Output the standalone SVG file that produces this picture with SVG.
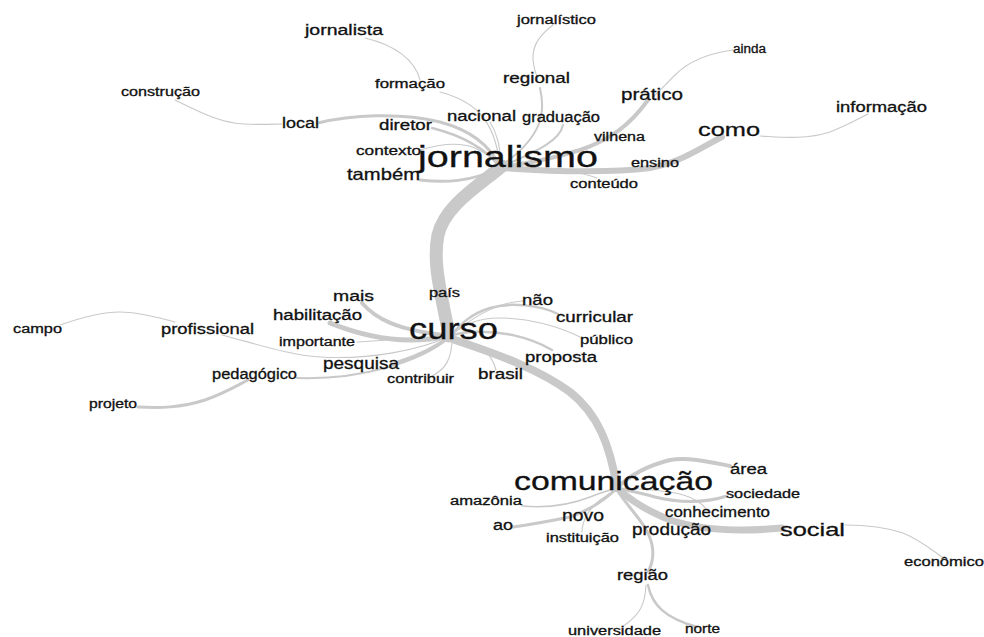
<svg xmlns="http://www.w3.org/2000/svg" width="984" height="637" viewBox="0 0 984 637">
<style>
text{font-family:"Liberation Sans",Arial,sans-serif;fill:#111;stroke:#111;stroke-width:0.3px}
.s{font-size:12px}.m{font-size:14px}.l{font-size:16.5px}.b{font-size:19px}
.h1{font-size:29px}.h2{font-size:30px}.h3{font-size:26px}
#edges path{fill:none;stroke:#c9c9c9;stroke-linecap:round}
.t{stroke-width:1.1}.t2{stroke-width:2}.t3{stroke-width:3}.t4{stroke-width:4}
</style>
<rect width="984" height="637" fill="#fff"/>
<g id="edges">
<path d="M502,166 C480,185 445,205 438,235 C432,265 442,295 449,336" style="stroke-width:13"/>
<path d="M455,340 C500,355 540,370 570,392 C598,414 610,445 617,488" style="stroke-width:8"/>
<path class="t" d="M440,92 C470,100 495,115 500,167"/>
<path class="t" d="M365,38 C395,45 415,60 420,80"/>
<path class="t2" d="M540,88 C545,110 545,135 502,165"/>
<path class="t" d="M553,25 C540,35 532,45 533,60 C534,68 536,74 537,76"/>
<path class="t" d="M490,122 C498,135 501,150 501,166"/>
<path class="t2" d="M563,125 C560,140 540,150 503,166"/>
<path class="t4" d="M648,100 C630,125 610,140 580,150 C555,158 530,163 502,167"/>
<path class="t" d="M733,50 C710,53 690,60 675,75 C665,85 658,93 653,97"/>
<path d="M722,137 C700,148 680,163 650,168 C610,173 560,172 502,168" style="stroke-width:6"/>
<path class="t" d="M760,136 C780,137 805,140 830,132 C848,125 860,118 868,114"/>
<path class="t" d="M597,178 C575,170 540,167 502,167"/>
<path class="t3" d="M318,123 C350,115 400,112 440,122 C470,130 490,145 500,167"/>
<path class="t" d="M175,100 C200,112 220,123 245,124 C260,125 275,124 282,124"/>
<path style="stroke-width:2.5" d="M432,128 C460,135 485,148 500,167"/>
<path class="t" d="M420,150 C440,144 460,142 475,148 C488,154 495,160 500,167"/>
<path class="t3" d="M420,180 C445,183 470,182 500,168"/>
<path class="t4" d="M362,303 C375,318 395,330 450,336"/>
<path style="stroke-width:5" d="M330,323 C355,333 380,340 410,340 C430,340 440,338 450,336"/>
<path class="t" d="M357,342 C390,340 420,338 450,336"/>
<path class="t" d="M222,335 C260,345 290,355 320,357 C370,360 420,350 450,336"/>
<path class="t" d="M60,325 C80,318 100,312 120,312 C140,312 160,318 175,322"/>
<path class="t3" d="M398,362 C420,355 435,348 450,336"/>
<path class="t2" d="M297,378 C330,379 360,375 385,368 C415,360 435,350 450,337"/>
<path class="t3" d="M138,407 C160,408 180,408 205,400 C225,393 238,385 248,380"/>
<path class="t" d="M430,377 C445,370 452,360 452,338"/>
<path class="t" d="M496,370 C492,355 485,345 450,337"/>
<path class="t" d="M523,301 C500,302 475,315 450,336"/>
<path style="stroke-width:2.5" d="M558,314 C540,305 510,302 490,308 C470,314 460,325 450,336"/>
<path class="t" d="M580,337 C560,327 530,318 500,318 C475,318 462,326 450,336"/>
<path style="stroke-width:2.5" d="M552,350 C530,337 500,330 470,332 C460,333 455,334 450,336"/>
<path class="t4" d="M730,466 C710,462 690,457 670,460 C650,465 630,475 617,488"/>
<path class="t3" d="M727,496 C705,503 680,503 655,497 C640,493 625,490 617,488"/>
<path class="t" d="M707,510 C698,498 685,490 617,488"/>
<path d="M782,528 C740,532 700,530 670,520 C645,510 630,500 617,488" style="stroke-width:7"/>
<path class="t" d="M845,525 C865,525 885,527 903,533 C920,540 932,550 942,557"/>
<path class="t3" d="M617,490 C630,510 648,525 652,545 C655,560 650,568 648,572"/>
<path class="t" d="M646,585 C645,605 640,615 622,627"/>
<path style="stroke-width:2.5" d="M648,585 C652,605 665,618 697,627"/>
<path style="stroke-width:1.5" d="M522,506 C545,508 570,505 590,497 C600,493 610,490 617,488"/>
<path class="t3" d="M513,527 C535,524 555,520 570,517 C590,510 605,500 617,488"/>
<path class="t" d="M582,532 C582,520 590,508 600,500 C608,495 613,491 617,488"/>
</g>
<g id="n-jornalismo"><text class="h1" x="418" y="167" textLength="180" lengthAdjust="spacingAndGlyphs">jornalismo</text></g>
<g id="n-curso"><text class="h2" x="409" y="339" textLength="89" lengthAdjust="spacingAndGlyphs">curso</text></g>
<g id="n-comunicacao"><text class="h3" x="514" y="490" textLength="199" lengthAdjust="spacingAndGlyphs">comunicação</text></g>
<g id="n-jornalista"><text class="m" x="305" y="35" textLength="78" lengthAdjust="spacingAndGlyphs">jornalista</text></g>
<g id="n-jornalistico"><text class="s" x="517" y="24" textLength="79" lengthAdjust="spacingAndGlyphs">jornalístico</text></g>
<g id="n-ainda"><text class="s" x="733" y="53" textLength="33" lengthAdjust="spacingAndGlyphs">ainda</text></g>
<g id="n-formacao"><text class="s" x="375" y="88" textLength="70" lengthAdjust="spacingAndGlyphs">formação</text></g>
<g id="n-regional"><text class="m" x="503" y="83" textLength="67" lengthAdjust="spacingAndGlyphs">regional</text></g>
<g id="n-pratico"><text class="l" x="621" y="100" textLength="62" lengthAdjust="spacingAndGlyphs">prático</text></g>
<g id="n-construcao"><text class="s" x="121" y="96" textLength="79" lengthAdjust="spacingAndGlyphs">construção</text></g>
<g id="n-informacao"><text class="m" x="836" y="112" textLength="91" lengthAdjust="spacingAndGlyphs">informação</text></g>
<g id="n-nacional"><text class="m" x="447" y="121" textLength="69" lengthAdjust="spacingAndGlyphs">nacional</text></g>
<g id="n-graduacao"><text class="m" x="522" y="122" textLength="78" lengthAdjust="spacingAndGlyphs">graduação</text></g>
<g id="n-local"><text class="m" x="282" y="128" textLength="37" lengthAdjust="spacingAndGlyphs">local</text></g>
<g id="n-diretor"><text class="m" x="379" y="130" textLength="53" lengthAdjust="spacingAndGlyphs">diretor</text></g>
<g id="n-como"><text class="b" x="698" y="136" textLength="62" lengthAdjust="spacingAndGlyphs">como</text></g>
<g id="n-vilhena"><text class="s" x="594" y="141" textLength="51" lengthAdjust="spacingAndGlyphs">vilhena</text></g>
<g id="n-contexto"><text class="s" x="356" y="155" textLength="65" lengthAdjust="spacingAndGlyphs">contexto</text></g>
<g id="n-ensino"><text class="s" x="631" y="167" textLength="48" lengthAdjust="spacingAndGlyphs">ensino</text></g>
<g id="n-tambem"><text class="l" x="347" y="180" textLength="73" lengthAdjust="spacingAndGlyphs">também</text></g>
<g id="n-conteudo"><text class="s" x="570" y="188" textLength="68" lengthAdjust="spacingAndGlyphs">conteúdo</text></g>
<g id="n-mais"><text class="m" x="333" y="301" textLength="41" lengthAdjust="spacingAndGlyphs">mais</text></g>
<g id="n-pais"><text class="s" x="429" y="297" textLength="31" lengthAdjust="spacingAndGlyphs">país</text></g>
<g id="n-nao"><text class="m" x="522" y="305" textLength="31" lengthAdjust="spacingAndGlyphs">não</text></g>
<g id="n-habilitacao"><text class="m" x="273" y="320" textLength="89" lengthAdjust="spacingAndGlyphs">habilitação</text></g>
<g id="n-campo"><text class="s" x="13" y="333" textLength="49" lengthAdjust="spacingAndGlyphs">campo</text></g>
<g id="n-profissional"><text class="m" x="161" y="334" textLength="93" lengthAdjust="spacingAndGlyphs">profissional</text></g>
<g id="n-curricular"><text class="m" x="556" y="322" textLength="77" lengthAdjust="spacingAndGlyphs">curricular</text></g>
<g id="n-publico"><text class="s" x="580" y="344" textLength="53" lengthAdjust="spacingAndGlyphs">público</text></g>
<g id="n-importante"><text class="s" x="279" y="346" textLength="76" lengthAdjust="spacingAndGlyphs">importante</text></g>
<g id="n-proposta"><text class="m" x="525" y="362" textLength="72" lengthAdjust="spacingAndGlyphs">proposta</text></g>
<g id="n-pesquisa"><text class="l" x="323" y="369" textLength="76" lengthAdjust="spacingAndGlyphs">pesquisa</text></g>
<g id="n-pedagogico"><text class="m" x="212" y="379" textLength="85" lengthAdjust="spacingAndGlyphs">pedagógico</text></g>
<g id="n-contribuir"><text class="s" x="387" y="383" textLength="67" lengthAdjust="spacingAndGlyphs">contribuir</text></g>
<g id="n-brasil"><text class="m" x="478" y="379" textLength="45" lengthAdjust="spacingAndGlyphs">brasil</text></g>
<g id="n-projeto"><text class="s" x="89" y="408" textLength="48" lengthAdjust="spacingAndGlyphs">projeto</text></g>
<g id="n-area"><text class="m" x="730" y="474" textLength="37" lengthAdjust="spacingAndGlyphs">área</text></g>
<g id="n-sociedade"><text class="s" x="726" y="498" textLength="74" lengthAdjust="spacingAndGlyphs">sociedade</text></g>
<g id="n-amazonia"><text class="s" x="450" y="505" textLength="72" lengthAdjust="spacingAndGlyphs">amazônia</text></g>
<g id="n-conhecimento"><text class="m" x="665" y="517" textLength="105" lengthAdjust="spacingAndGlyphs">conhecimento</text></g>
<g id="n-novo"><text class="l" x="562" y="521" textLength="42" lengthAdjust="spacingAndGlyphs">novo</text></g>
<g id="n-ao"><text class="m" x="493" y="530" textLength="20" lengthAdjust="spacingAndGlyphs">ao</text></g>
<g id="n-social"><text class="b" x="780" y="536" textLength="65" lengthAdjust="spacingAndGlyphs">social</text></g>
<g id="n-instituicao"><text class="s" x="546" y="542" textLength="73" lengthAdjust="spacingAndGlyphs">instituição</text></g>
<g id="n-producao"><text class="l" x="632" y="535" textLength="79" lengthAdjust="spacingAndGlyphs">produção</text></g>
<g id="n-economico"><text class="s" x="904" y="566" textLength="80" lengthAdjust="spacingAndGlyphs">econômico</text></g>
<g id="n-regiao"><text class="m" x="617" y="580" textLength="51" lengthAdjust="spacingAndGlyphs">região</text></g>
<g id="n-universidade"><text class="s" x="568" y="635" textLength="93" lengthAdjust="spacingAndGlyphs">universidade</text></g>
<g id="n-norte"><text class="s" x="685" y="633" textLength="35" lengthAdjust="spacingAndGlyphs">norte</text></g>
</svg>
